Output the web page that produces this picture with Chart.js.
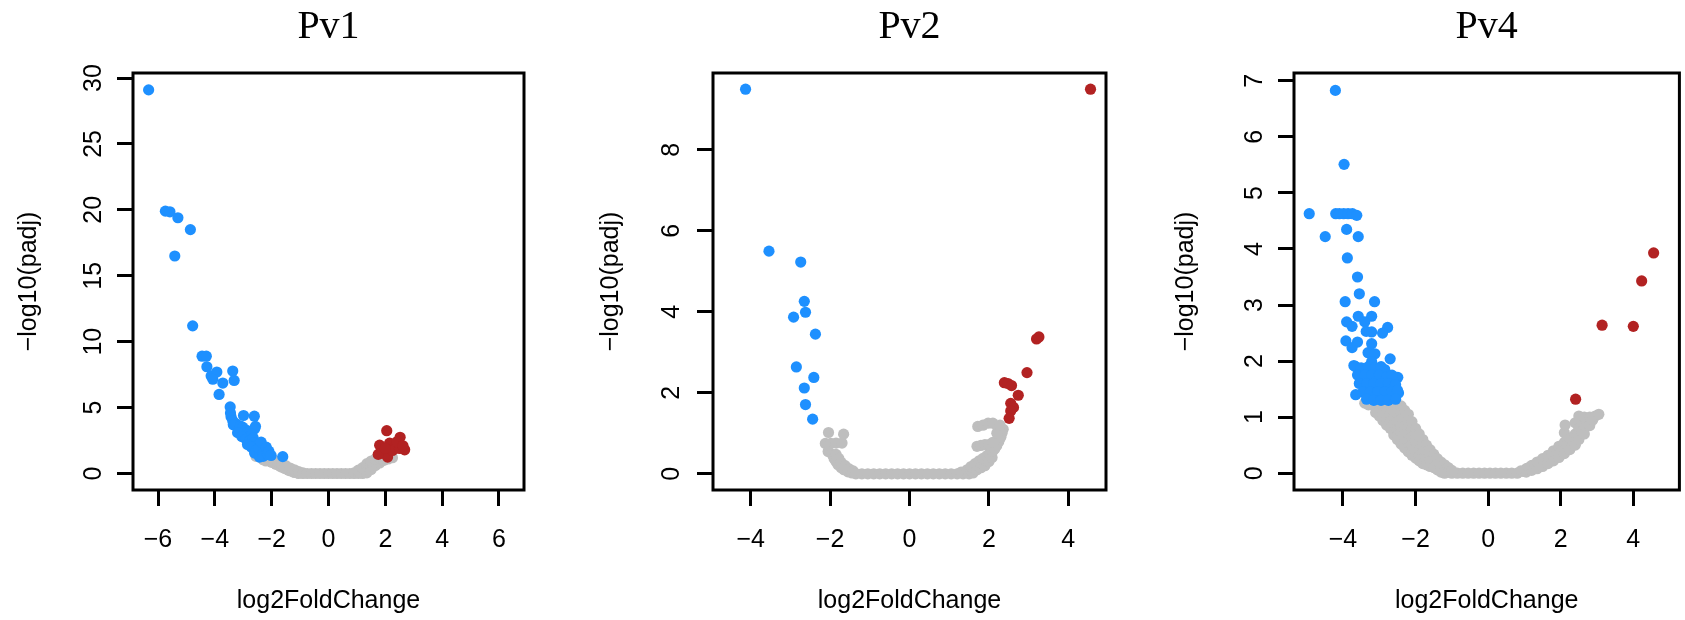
<!DOCTYPE html>
<html><head><meta charset="utf-8">
<script src="https://cdn.jsdelivr.net/npm/chart.js@4.4.0/dist/chart.umd.min.js"></script>
<style>
html,body{margin:0;padding:0;background:#fff;width:1685px;height:620px;overflow:hidden;position:relative}
canvas{position:absolute;top:0}
</style></head><body>
<canvas id="c1" width="560" height="620" style="left:0px"></canvas>
<canvas id="c2" width="560" height="620" style="left:560px"></canvas>
<canvas id="c3" width="545" height="620" style="left:1140px"></canvas>
<script>
// ---------- data ----------
const panelTitles = ['Pv1', 'Pv2', 'Pv4'];
const xAxisTitle = 'log2FoldChange';
const yAxisTitle = '\u2212log10(padj)';

const xTicksPv1 = [-6, -4, -2, 0, 2, 4, 6];
const yTicksPv1 = [0, 5, 10, 15, 20, 25, 30];
const xTicksPv2 = [-4, -2, 0, 2, 4];
const yTicksPv2 = [0, 2, 4, 6, 8];
const xTicksPv4 = [-4, -2, 0, 2, 4];
const yTicksPv4 = [0, 1, 2, 3, 4, 5, 6, 7];

const pv1Blue = [
  [-6.33,29.1],[-5.74,19.9],[-5.58,19.85],[-5.3,19.4],[-4.86,18.5],[-5.41,16.5],[-4.78,11.2],
  [-4.45,8.9],[-4.3,8.9],[-4.28,8.1],[-4.13,7.4],[-3.93,7.7],[-4.07,7.15],[-3.72,6.86],[-3.85,6.0],
  [-3.37,7.77],[-3.32,7.06],[-3.46,5.05],[-3.43,4.3],[-3.45,4.6],[-2.99,4.4],[-2.61,4.35],[-2.57,3.57],
  [-3.37,4.0],[-3.25,3.77],[-3.35,3.7],[-3.13,3.4],[-3.1,3.6],[-3.02,3.52],[-2.96,3.0],[-2.9,3.3],
  [-2.84,3.14],[-2.75,3.2],[-2.6,3.4],[-3.2,3.1],[-3.05,2.8],[-2.9,2.6],[-2.78,2.5],[-2.7,3.0],
  [-2.65,2.7],[-2.65,2.3],[-2.5,2.1],[-2.85,2.2],[-2.72,2.0],[-2.55,1.75],[-2.6,1.55],[-2.45,1.9],
  [-2.43,1.25],[-2.37,2.38],[-2.32,1.52],[-2.3,1.3],[-2.19,2.0],[-2.15,1.45],[-2.1,1.7],[-2.02,1.37],
  [-1.61,1.28]
];
const pv1Red = [
  [2.05,3.25],[2.52,2.75],[1.8,2.15],[2.15,2.3],[2.35,2.05],[2.6,1.95],[2.68,1.8],[1.9,1.55],
  [2.08,1.25],[2.25,1.75],[2.5,1.9],[1.75,1.45],[2.0,1.9],[2.4,2.4],[2.62,2.1]
];
const pv1Gray = [
  [-2.55,1.3],[-2.4,1.25],[-2.3,1.05],[-2.25,1.15],[-2.2,0.95],[-2.1,1.0],[-2.1,1.15],[-2.0,0.85],
  [-1.95,0.85],[-1.95,1.05],[-1.85,0.7],[-1.8,0.7],[-1.8,0.9],[-1.7,0.55],
  [-1.65,0.5],[-1.65,0.75],[-1.55,0.4],[-1.5,0.35],[-1.5,0.6],[-1.4,0.25],[-1.35,0.2],[-1.35,0.42],
  [-1.25,0.15],[-1.2,0.08],[-1.2,0.28],[-1.1,0.05],
  [-1.05,0],[-1.05,0.15],[-0.9,0],[-0.9,0.05],
  [-0.75,0],[-0.6,0],[-0.45,0],[-0.3,0],[-0.15,0],[0,0],[0.15,0],[0.3,0],[0.45,0],[0.6,0],[0.75,0],
  [0.9,0],[0.9,0.05],[1.05,0],[1.05,0.15],[1.05,0.25],[1.2,0],[1.2,0.2],[1.2,0.45],
  [1.35,0.05],[1.35,0.3],[1.35,0.55],[1.35,0.75],[1.5,0.3],[1.5,0.55],[1.5,0.8],[1.5,0.95],
  [1.65,0.6],[1.65,0.85],[1.65,1.1],[1.8,0.8],[1.8,1.0],[1.8,1.2],[1.95,1.0],[1.95,1.2],
  [2.1,1.1],[2.1,1.25],[2.25,1.2]
];

const pv2Blue = [
  [-4.13,9.5],[-3.54,5.5],[-2.74,5.23],[-2.65,4.26],[-2.62,3.99],[-2.92,3.87],[-2.37,3.45],
  [-2.85,2.64],[-2.41,2.38],[-2.65,2.12],[-2.62,1.71],[-2.44,1.35]
];
const pv2Red = [
  [4.56,9.5],[3.2,3.33],[3.26,3.38],[2.96,2.5],[2.39,2.25],[2.48,2.23],[2.57,2.18],[2.74,1.94],
  [2.55,1.74],[2.62,1.64],[2.55,1.55],[2.51,1.37]
];
const pv2Gray = [
  [-2.04,1.02],[-1.66,0.98],[-2.12,0.75],[-1.98,0.75],[-1.85,0.76],[-1.7,0.76],
  [-2.05,0.55],[-1.95,0.48],[-1.9,0.38],[-1.85,0.3],[-1.8,0.22],[-1.72,0.15],[-1.65,0.1],[-1.55,0.05],[-1.45,0.02],
  [-1.85,0.48],[-1.78,0.38],[-1.72,0.28],[-1.62,0.2],[-1.52,0.12],[-1.42,0.07],
  [-1.35,0],[-1.2,0],[-1.05,0],[-0.9,0],[-0.75,0],[-0.6,0],[-0.45,0],[-0.3,0],[-0.15,0],[0,0],
  [0.15,0],[0.3,0],[0.45,0],[0.6,0],[0.75,0],[0.9,0],[1.05,0],[1.2,0],[1.35,0],[1.5,0],[1.6,0.02],
  [1.3,0.04],[1.45,0.03],[1.45,0.1],[1.55,0.08],[1.55,0.18],[1.62,0.15],[1.65,0.25],[1.7,0.1],
  [1.72,0.2],[1.75,0.32],[1.8,0.15],[1.82,0.26],[1.85,0.38],[1.9,0.2],[1.92,0.32],[1.95,0.45],
  [2.0,0.3],[2.02,0.5],[2.08,0.4],[2.1,0.56],[2.15,0.62],[2.2,0.7],[2.25,0.8],[2.3,0.9],[2.33,1.0],[2.36,1.1],
  [1.7,0.68],[1.8,0.7],[1.9,0.72],[2.0,0.72],[2.1,0.78],[1.72,1.17],[1.85,1.2],[1.98,1.25],
  [2.1,1.25],[2.22,1.15],[2.2,1.0],[2.28,1.2]
];

const pv4Blue = [
  [-4.21,6.83],[-3.97,5.51],[-4.93,4.63],[-4.2,4.63],[-4.1,4.63],[-3.98,4.63],[-3.86,4.63],[-3.74,4.63],
  [-3.62,4.6],[-4.49,4.22],[-3.9,4.35],[-3.58,4.22],[-3.88,3.84],[-3.6,3.5],[-3.55,3.2],[-3.94,3.06],
  [-3.13,3.06],[-3.58,2.8],[-3.21,2.8],[-3.9,2.7],[-3.4,2.7],[-3.75,2.62],[-2.77,2.6],[-3.36,2.53],
  [-3.21,2.52],[-2.91,2.5],[-3.92,2.36],[-3.6,2.34],[-3.21,2.31],[-3.75,2.24],[-3.31,2.15],[-3.12,2.13],
  [-2.7,2.04],[-3.7,1.92],[-3.21,1.99],[-2.49,1.71],[-2.47,1.43],
  [-3.65,1.9],[-3.5,1.88],[-3.3,1.9],[-3.1,1.88],[-2.95,1.9],[-2.85,1.85],
  [-3.6,1.75],[-3.4,1.75],[-3.2,1.75],[-3.0,1.75],[-2.8,1.72],[-2.65,1.75],
  [-3.55,1.6],[-3.35,1.6],[-3.15,1.6],[-2.95,1.6],[-2.75,1.6],[-2.55,1.58],
  [-3.45,1.45],[-3.25,1.45],[-3.05,1.45],[-2.85,1.45],[-2.65,1.45],[-2.5,1.48],
  [-3.35,1.32],[-3.15,1.3],[-2.95,1.3],[-2.75,1.3],[-2.55,1.32],[-3.65,1.4]
];
const pv4Red = [
  [4.56,3.93],[4.23,3.43],[3.14,2.64],[4.0,2.62],[2.41,1.32]
];
const pv4Gray = [
  [-3.4,1.25],[-3.3,1.22],[-3.2,1.22],[-3.1,1.2],[-3.1,1.08],
  [-3.0,1.22],[-3.0,1.1],[-3.0,1.02],[-2.9,1.2],[-2.9,1.06],[-2.9,0.94],
  [-2.8,1.22],[-2.8,1.1],[-2.8,0.98],[-2.8,0.86],[-2.7,1.2],[-2.7,1.06],[-2.7,0.92],[-2.7,0.8],
  [-2.6,1.22],[-2.6,1.1],[-2.6,0.98],[-2.6,0.86],[-2.6,0.74],[-2.6,0.68],
  [-2.5,1.2],[-2.5,1.06],[-2.5,0.92],[-2.5,0.78],[-2.5,0.66],[-2.5,0.6],
  [-2.4,1.2],[-2.4,1.08],[-2.4,0.96],[-2.4,0.84],[-2.4,0.72],[-2.4,0.6],[-2.4,0.52],
  [-2.3,1.12],[-2.3,0.98],[-2.3,0.84],[-2.3,0.7],[-2.3,0.56],[-2.3,0.45],
  [-2.2,1.05],[-2.2,0.93],[-2.2,0.81],[-2.2,0.69],[-2.2,0.57],[-2.2,0.45],[-2.2,0.38],
  [-2.1,0.92],[-2.1,0.78],[-2.1,0.64],[-2.1,0.5],[-2.1,0.38],[-2.1,0.32],
  [-2.0,0.8],[-2.0,0.68],[-2.0,0.56],[-2.0,0.44],[-2.0,0.34],[-2.0,0.27],
  [-1.9,0.7],[-1.9,0.56],[-1.9,0.42],[-1.9,0.3],[-1.9,0.22],
  [-1.8,0.6],[-1.8,0.48],[-1.8,0.36],[-1.8,0.26],[-1.8,0.17],
  [-1.7,0.5],[-1.7,0.38],[-1.7,0.26],[-1.7,0.15],
  [-1.6,0.42],[-1.6,0.32],[-1.6,0.22],[-1.6,0.12],
  [-1.5,0.34],[-1.5,0.22],[-1.5,0.1],
  [-1.4,0.26],[-1.4,0.16],[-1.4,0.06],
  [-1.3,0.2],[-1.3,0.1],[-1.3,0.02],
  [-1.2,0.15],[-1.2,0.05],[-1.2,0],
  [-1.1,0.1],[-1.1,0.02],
  [-1.0,0.05],[-1.0,0],
  [-0.85,0],[-0.7,0],[-0.55,0],[-0.4,0],[-0.25,0],[-0.1,0],[0.05,0],[0.2,0],[0.35,0],[0.5,0],[0.65,0],[0.8,0],
  [0.9,0.04],[0.97,0.03],[1.05,0.02],[1.05,0.08],[1.12,0.1],[1.2,0.05],[1.2,0.14],[1.28,0.13],
  [1.35,0.08],[1.35,0.2],[1.42,0.18],[1.5,0.12],[1.5,0.26],[1.58,0.22],
  [1.65,0.17],[1.65,0.32],[1.72,0.28],[1.8,0.22],[1.8,0.4],[1.88,0.35],[1.95,0.28],[1.95,0.48],
  [2.02,0.42],[2.1,0.35],[2.1,0.55],[2.1,0.72],[2.12,0.86],[2.18,0.5],
  [2.25,0.42],[2.25,0.62],[2.32,0.58],[2.4,0.5],[2.4,0.7],[2.4,0.9],[2.45,0.65],
  [2.5,0.6],[2.5,0.8],[2.5,1.02],[2.58,0.75],
  [2.65,0.7],[2.65,0.9],[2.65,1.0],[2.72,0.85],[2.8,0.85],[2.8,1.0],[2.88,0.95],[2.95,1.02],[3.05,1.05]
];

// ---------- styling / layout ----------
const GRAY = '#bebebe', BLUE = '#1e90ff', RED = '#b22222';
Chart.defaults.font.family = '"Liberation Sans", Arial, Helvetica, sans-serif';
const AXIS_FONT = 25;

const framePlugin = {
  id: 'frame',
  afterDatasetsDraw(chart) {
    const {ctx, chartArea: a} = chart;
    ctx.save();
    ctx.strokeStyle = '#000';
    ctx.lineWidth = 3;
    ctx.strokeRect(a.left, a.top, a.right - a.left, a.bottom - a.top);
    ctx.restore();
  }
};

const fmt = v => (v < 0 ? '\u2212' + Math.abs(v) : String(v));
const toPts = arr => arr.map(([x, y]) => ({x, y}));

function makePanel(id, p) {
  return new Chart(document.getElementById(id), {
    type: 'scatter',
    data: {
      datasets: [
        {data: toPts(p.gray), backgroundColor: GRAY, order: 3},
        {data: toPts(p.blue), backgroundColor: BLUE, order: 2},
        {data: toPts(p.red), backgroundColor: RED, order: 1}
      ]
    },
    options: {
      responsive: false,
      animation: false,
      devicePixelRatio: 1,
      events: [],
      layout: {padding: {left: 0, right: p.padRight, top: 0, bottom: 0}},
      elements: {point: {radius: 5.6, hoverRadius: 5.6, borderWidth: 0, pointStyle: 'circle'}},
      plugins: {
        legend: {display: false},
        tooltip: {enabled: false},
        title: {
          display: true, text: p.title, color: '#000', fullSize: false,
          font: {family: '"Liberation Serif", "Times New Roman", serif', size: 40, weight: 'normal'},
          padding: {top: 3, bottom: 22}
        }
      },
      scales: {
        x: {
          type: 'linear', position: 'bottom', min: p.xMin, max: p.xMax,
          afterBuildTicks: s => { s.ticks = p.xTicks.map(v => ({value: v})); },
          afterFit: s => { s.height = 130; },
          grid: {drawOnChartArea: false, drawTicks: true, tickLength: 16, tickWidth: 3, tickColor: '#000', color: '#000'},
          border: {display: false},
          ticks: {color: '#000', font: {size: AXIS_FONT}, padding: 19, maxRotation: 0, autoSkip: false, callback: fmt},
          title: {display: true, text: xAxisTitle, color: '#000', font: {size: AXIS_FONT}, padding: {top: 0, bottom: 4}}
        },
        y: {
          type: 'linear', position: 'left', min: p.yMin, max: p.yMax,
          afterBuildTicks: s => { s.ticks = p.yTicks.map(v => ({value: v})); },
          afterFit: s => { s.width = p.yWidth; },
          grid: {drawOnChartArea: false, drawTicks: true, tickLength: 16, tickWidth: 3, tickColor: '#000', color: '#000'},
          border: {display: false},
          ticks: {color: '#000', font: {size: AXIS_FONT}, padding: p.yLabelPad, minRotation: 90, maxRotation: 90,
                  crossAlign: 'center', autoSkip: false, callback: fmt},
          title: {display: true, text: yAxisTitle, color: '#000', font: {size: AXIS_FONT}, padding: {top: p.yTitlePad, bottom: 0}}
        }
      }
    },
    plugins: [framePlugin]
  });
}

makePanel('c1', {
  title: panelTitles[0], gray: pv1Gray, blue: pv1Blue, red: pv1Red,
  xMin: -6.88, xMax: 6.88, yMin: -1.25, yMax: 30.38, xTicks: xTicksPv1, yTicks: yTicksPv1,
  yWidth: 133, padRight: 36, yLabelPad: 9, yTitlePad: 14
});
makePanel('c2', {
  title: panelTitles[1], gray: pv2Gray, blue: pv2Blue, red: pv2Red,
  xMin: -4.95, xMax: 4.95, yMin: -0.4, yMax: 9.9, xTicks: xTicksPv2, yTicks: yTicksPv2,
  yWidth: 153, padRight: 14, yLabelPad: 18, yTitlePad: 36
});
makePanel('c3', {
  title: panelTitles[2], gray: pv4Gray, blue: pv4Blue, red: pv4Red,
  xMin: -5.35, xMax: 5.27, yMin: -0.3, yMax: 7.14, xTicks: xTicksPv4, yTicks: yTicksPv4,
  yWidth: 154, padRight: 1, yLabelPad: 16, yTitlePad: 31
});
</script>
</body></html>
